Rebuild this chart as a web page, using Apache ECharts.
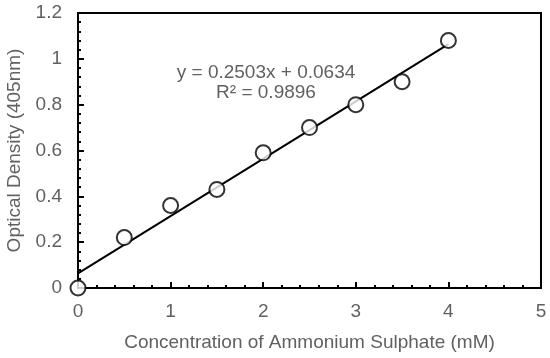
<!DOCTYPE html>
<html>
<head>
<meta charset="utf-8">
<script src="https://cdn.jsdelivr.net/npm/echarts@6/dist/echarts.min.js"></script>
<style>html,body{margin:0;padding:0;background:#fff}#c{width:550px;height:358px}</style>
</head>
<body>
<div id="c"></div>
<script>
const concentration = [0, 0.5, 1, 1.5, 2, 2.5, 3, 3.5, 4];
const opticalDensity = [0, 0.22, 0.36, 0.43, 0.59, 0.70, 0.80, 0.90, 1.08];
const trendSlope = 0.2503;
const trendIntercept = 0.0634;
const trendRange = [0, 4];
const equationLines = ['y = 0.2503x + 0.0634', 'R² = 0.9896'];
const xAxisName = 'Concentration of Ammonium Sulphate (mM)';
const yAxisName = 'Optical Density (405nm)';

const chart = echarts.init(document.getElementById('c'), null, {renderer: 'canvas'});
const gray = '#616161';
const font = 'Liberation Sans, Arial, sans-serif';
const points = concentration.map((x, i) => [x, opticalDensity[i]]);
const trend = trendRange.map(x => [x, trendSlope * x + trendIntercept]);

chart.setOption({
  animation: false,
  backgroundColor: '#fff',
  grid: {left: 78, right: 9, top: 13, bottom: 70, containLabel: false, outerBoundsMode: 'none', show: true, borderColor: '#000', borderWidth: 2, backgroundColor: 'transparent'},
  title: {
    text: equationLines.join('\n'),
    left: 261, top: 58,
    textAlign: 'center',
    textStyle: {color: gray, fontSize: 19, fontWeight: 'normal', fontFamily: font, lineHeight: 20, align: 'center'}
  },
  xAxis: {
    type: 'value', min: 0, max: 5, interval: 1,
    name: xAxisName, nameLocation: 'middle', nameGap: 45,
    nameTextStyle: {color: gray, fontSize: 19, fontFamily: font},
    axisLine: {show: true, onZero: false, lineStyle: {color: '#000', width: 2}},
    axisTick: {show: true, inside: true, length: 6, lineStyle: {color: '#000', width: 2}},
    minorTick: {show: true, splitNumber: 5, length: 3, lineStyle: {color: '#000', width: 2}},
    axisLabel: {color: gray, fontSize: 19, fontFamily: font, margin: 14},
    splitLine: {show: false}
  },
  yAxis: {
    type: 'value', min: 0, max: 1.2, interval: 0.2,
    name: yAxisName, nameLocation: 'middle', nameGap: 54,
    nameTextStyle: {color: gray, fontSize: 19, fontFamily: font},
    axisLine: {show: true, onZero: false, lineStyle: {color: '#000', width: 2}},
    axisTick: {show: true, inside: true, length: 6, lineStyle: {color: '#000', width: 2}},
    minorTick: {show: true, splitNumber: 5, length: 3, lineStyle: {color: '#000', width: 2}},
    axisLabel: {color: gray, fontSize: 19, fontFamily: font, margin: 16, formatter: v => String(+v.toFixed(1))},
    splitLine: {show: false}
  },
  series: [
    {
      type: 'line', data: trend, showSymbol: false, symbol: 'none',
      lineStyle: {color: '#000', width: 2}, z: 2
    },
    {
      type: 'scatter', data: points, symbol: 'circle', symbolSize: 15,
      itemStyle: {color: '#fff', borderColor: '#000', borderWidth: 2}, z: 3
    }
  ]
});
</script>
</body>
</html>
